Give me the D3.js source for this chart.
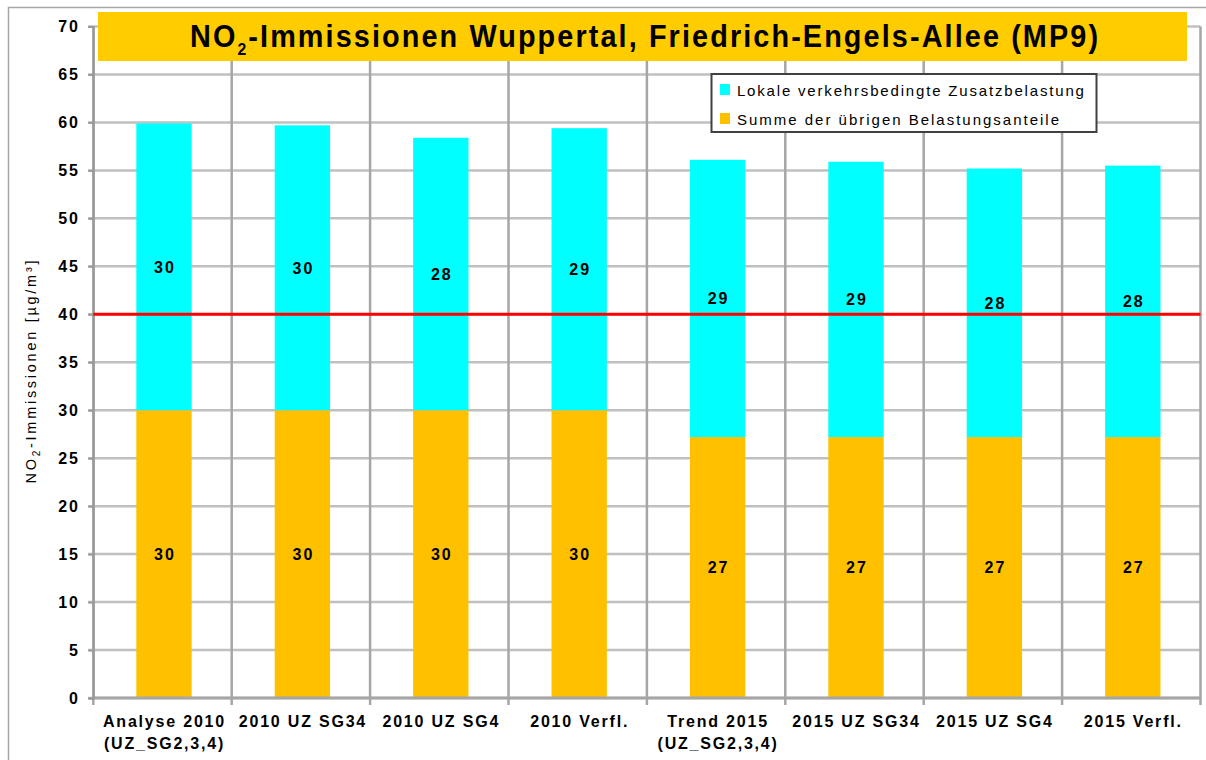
<!DOCTYPE html>
<html><head><meta charset="utf-8">
<script src="https://cdn.jsdelivr.net/npm/d3@7"></script>
<style>body{margin:0;background:#fff}svg{display:block;font-family:"Liberation Sans",Arial,sans-serif}</style>
</head><body><svg id="c" width="1206" height="760"></svg>
<script>
const categories = ["Analyse 2010\n(UZ_SG2,3,4)","2010 UZ SG34","2010 UZ SG4","2010 Verfl.","Trend 2015\n(UZ_SG2,3,4)","2015 UZ SG34","2015 UZ SG4","2015 Verfl."];
const otherShare = [30,30,30,30,27.2,27.2,27.2,27.2];
const trafficShare = [29.9,29.7,28.4,29.4,28.9,28.7,28.0,28.3];
const limitValue = 40;
const yTicks = [0,5,10,15,20,25,30,35,40,45,50,55,60,65,70];
const seriesNames = ["Lokale verkehrsbedingte Zusatzbelastung","Summe der übrigen Belastungsanteile"];
const seriesColors = ["#00FFFF","#FFC000"];

const svg = d3.select("#c");
const x = d3.scaleBand().domain(categories).range([93.3,1200.5]).paddingInner(0.6).paddingOuter(0.3);
const y = d3.scaleLinear().domain([0,70]).range([698,26.5]);
const step = x.step();
const boundaries = categories.map(c => x(c) - step*0.3).concat([x.range()[1]]);
const barShift = 1.5;

function fit(sel, target, sx){
  sx = sx || 1;
  sel.each(function(){
    const n = this.getNumberOfChars();
    const w = this.getComputedTextLength();
    const ls = (target/sx - w)/(n-1);
    d3.select(this).style("letter-spacing", ls+"px").attr("dx", ls/2);
  });
}

// outer border
svg.append("rect").attr("x",8.5).attr("y",7.5).attr("width",1215).attr("height",770)
  .attr("fill","none").attr("stroke","#a6a6a6").attr("stroke-width",1.5);

// horizontal gridlines
svg.append("g").selectAll("line").data(yTicks).join("line")
  .attr("x1",88).attr("x2",x.range()[1]).attr("y1",d=>y(d)).attr("y2",d=>y(d))
  .attr("stroke","#c0c0c0").attr("stroke-width",2.5);

// vertical gridlines
svg.append("g").selectAll("line").data(boundaries).join("line")
  .attr("x1",d=>d).attr("x2",d=>d).attr("y1",y(70)).attr("y2",705)
  .attr("stroke","#a6a6a6").attr("stroke-width",2.5);

// bars
const stackData = categories.map((c,i)=>({cat:c, other:otherShare[i], traffic:trafficShare[i]}));
const stack = d3.stack().keys(["other","traffic"])(stackData);
const colorOf = {other:seriesColors[1], traffic:seriesColors[0]};
const layers = svg.append("g").selectAll("g").data(stack).join("g").attr("fill",d=>colorOf[d.key]);
layers.selectAll("rect").data(d=>d).join("rect")
  .attr("x",d=>x(d.data.cat)+barShift).attr("width",x.bandwidth())
  .attr("y",d=>y(d[1])).attr("height",d=>y(d[0])-y(d[1]));

// axes lines
svg.append("line").attr("x1",x.range()[0]).attr("x2",x.range()[1]).attr("y1",y(0)).attr("y2",y(0))
  .attr("stroke","#a6a6a6").attr("stroke-width",3);
const yAxis = d3.axisLeft(y).tickValues(yTicks).tickSize(5).tickFormat("");
const ya = svg.append("g").attr("transform",`translate(${x.range()[0]},0)`).call(yAxis);
ya.select(".domain").attr("stroke","#999").attr("stroke-width",2);
ya.selectAll(".tick line").attr("stroke","#999").attr("stroke-width",2);

// limit line
svg.append("line").attr("x1",x.range()[0]).attr("x2",x.range()[1]).attr("y1",y(limitValue)).attr("y2",y(limitValue))
  .attr("stroke","#FF0000").attr("stroke-width",3);

// segment labels
layers.selectAll("text").data(d=>d).join("text")
  .attr("x",d=>x(d.data.cat)+x.bandwidth()/2+barShift+1).attr("y",d=>(y(d[0])+y(d[1]))/2).attr("dy","0.36em")
  .attr("text-anchor","middle").attr("fill","#000").attr("font-weight","bold").attr("font-size",16)
  .style("letter-spacing","2px")
  .text(d=>Math.round(d[1]-d[0]));

// y tick labels
svg.append("g").selectAll("text").data(yTicks).join("text")
  .attr("x",80).attr("y",d=>y(d)).attr("dy","0.36em").attr("text-anchor","end")
  .attr("font-size",16).attr("font-weight","bold").attr("fill","#000").style("letter-spacing","2px")
  .text(d=>d);

// x labels
const xl = svg.append("g").selectAll("text").data(categories).join("text")
  .attr("text-anchor","middle").attr("font-size",16).attr("font-weight","bold").attr("fill","#000")
  .style("letter-spacing","1.8px");
xl.each(function(c){
  const t = d3.select(this);
  c.split("\n").forEach((line,i)=>{
    t.append("tspan").attr("x",x(c)+x.bandwidth()/2+2).attr("y",727+i*22).text(line);
  });
});

// y axis title
const yt = svg.append("text").attr("transform","translate(36,372) rotate(-90)")
  .attr("text-anchor","middle").attr("font-size",14.5).attr("fill","#000");
yt.append("tspan").text("NO");
yt.append("tspan").attr("font-size",10).attr("dy",4).text("2");
yt.append("tspan").attr("dy",-4).text("-Immissionen  [µg/m³]");
fit(yt,223);

// title
svg.append("rect").attr("x",98).attr("y",12).attr("width",1089).attr("height",49).attr("fill","#FFCC00");
const titleScale = 0.93;
const tg = svg.append("g").attr("transform",`translate(644,47) scale(${titleScale},1)`);
const tt = tg.append("text").attr("x",0).attr("y",0).attr("text-anchor","middle")
  .attr("font-size",31).attr("font-weight","bold").attr("fill","#000");
tt.append("tspan").text("NO");
tt.append("tspan").attr("font-size",17).attr("dy",8).text("2");
tt.append("tspan").attr("dy",-8).text("-Immissionen Wuppertal, Friedrich-Engels-Allee (MP9)");
fit(tt,908,titleScale);

// legend
const lg = svg.append("g");
lg.append("rect").attr("x",711.5).attr("y",74).attr("width",385).attr("height",58)
  .attr("fill","#fff").attr("stroke","#404040").attr("stroke-width",2);
const legendTargets = [347,322];
seriesNames.forEach((name,i)=>{
  lg.append("rect").attr("x",720).attr("y",84+i*29).attr("width",10).attr("height",11).attr("fill",seriesColors[i]);
  const t = lg.append("text").attr("x",736).attr("y",96+i*28.5).attr("font-size",15).attr("fill","#000").text(name);
  fit(t, legendTargets[i]);
});
</script></body></html>
